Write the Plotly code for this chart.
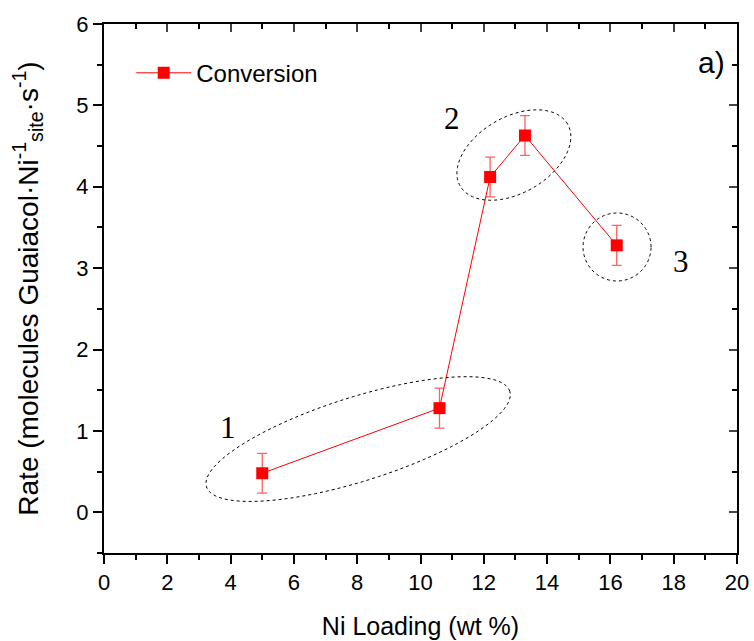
import numpy as np
import plotly.graph_objects as go

# ---- data ----
ni_loading = [5.0, 10.6, 12.2, 13.3, 16.2]
rate = [0.48, 1.28, 4.12, 4.63, 3.28]
rate_err = [0.245, 0.245, 0.245, 0.245, 0.245]

x_range = [0, 20]
y_range = [-0.5, 6]
x_ticks = [0, 2, 4, 6, 8, 10, 12, 14, 16, 18, 20]
y_ticks = [0, 1, 2, 3, 4, 5, 6]

group_labels = ["1", "2", "3"]
group_label_x = [3.92, 11.0, 18.23]
group_label_y = [1.04, 4.84, 3.08]
# ellipse groups: centre (data), semi-axes (px), tilt (deg)
ell_cx = [8.03, 12.95, 16.21]
ell_cy = [0.90, 4.39, 3.26]
ell_a = [159, 62, 34]
ell_b = [42, 38, 34]
ell_ang = [17.5, 30, 0]

W, H = 754, 641
ML, MR, MT, MB = 104, 17, 24, 88
pw = W - ML - MR
ph = H - MT - MB
sx = pw / (x_range[1] - x_range[0])
sy = ph / (y_range[1] - y_range[0])

fig = go.Figure()
fig.add_trace(go.Scatter(
    x=ni_loading, y=rate, mode="lines+markers", name="Conversion",
    line=dict(color="#ff0000", width=1),
    marker=dict(symbol="square", size=12, color="#ff0000"),
    error_y=dict(type="data", array=rate_err, color="#ff6060", thickness=1.3, width=5),
))

shapes = []
for cx, cy, a, b, ang in zip(ell_cx, ell_cy, ell_a, ell_b, ell_ang):
    t = np.linspace(0, 2 * np.pi, 121)
    th = np.deg2rad(ang)
    px = a * np.cos(t) * np.cos(th) - b * np.sin(t) * np.sin(th)
    py = a * np.cos(t) * np.sin(th) + b * np.sin(t) * np.cos(th)
    xs = cx + px / sx
    ys = cy + py / sy
    path = "M " + " L ".join(f"{x:.4f},{y:.4f}" for x, y in zip(xs, ys)) + " Z"
    shapes.append(dict(type="path", path=path, xref="x", yref="y",
                       line=dict(color="black", width=1, dash="dot")))

annotations = []
for lab, lx, ly in zip(group_labels, group_label_x, group_label_y):
    annotations.append(dict(x=lx, y=ly, xref="x", yref="y", text=lab, showarrow=False,
                            font=dict(family="Liberation Serif", size=31, color="black")))
annotations.append(dict(x=19.2, y=5.53, xref="x", yref="y", text="a)", showarrow=False,
                        font=dict(family="Liberation Sans", size=30, color="black")))

axis_common = dict(showline=True, linecolor="black", linewidth=2, ticks="outside",
                   tickwidth=2, tickcolor="black", showgrid=False, zeroline=False, automargin=False,
                   tickfont=dict(family="Liberation Sans", size=22, color="black"))

fig.update_layout(
    width=W, height=H,
    margin=dict(l=ML, r=MR, t=MT, b=MB),
    plot_bgcolor="white", paper_bgcolor="white",
    font=dict(family="Liberation Sans", color="black"),
    shapes=shapes, annotations=annotations,
    showlegend=True,
    legend=dict(x=0.043, y=0.907, xanchor="left", yanchor="middle", bgcolor="rgba(0,0,0,0)",
                font=dict(family="Liberation Sans", size=24, color="black"), itemwidth=55),
    xaxis=dict(range=x_range, tickvals=x_ticks, ticklen=9,
               minor=dict(dtick=1, ticklen=5, ticks="outside", tickwidth=2, tickcolor="black"),
               title=dict(text="Ni Loading (wt %)", font=dict(family="Liberation Sans", size=25), standoff=23),
               **axis_common),
    yaxis=dict(range=y_range, tickvals=y_ticks, ticklen=9,
               minor=dict(dtick=0.5, tick0=0, ticklen=5, ticks="outside", tickwidth=2, tickcolor="black"),
               title=dict(text="Rate (molecules Guaiacol·Ni<sup>-1</sup><sub>site</sub>·s<sup>-1</sup>)",
                          font=dict(family="Liberation Sans", size=28), standoff=30),
               **axis_common),
    xaxis2=dict(range=x_range, overlaying="x", side="top", showline=True, linecolor="black", linewidth=2,
                ticks="inside", ticklen=8, tickwidth=2, tickvals=x_ticks, showticklabels=False,
                minor=dict(dtick=1, ticklen=5, ticks="inside", tickwidth=2, tickcolor="black"),
                showgrid=False, zeroline=False, automargin=False),
    yaxis2=dict(range=y_range, overlaying="y", side="right", showline=True, linecolor="black", linewidth=2,
                ticks="inside", ticklen=8, tickwidth=2, tickvals=y_ticks, showticklabels=False,
                minor=dict(dtick=0.5, tick0=0, ticklen=5, ticks="inside", tickwidth=2, tickcolor="black"),
                showgrid=False, zeroline=False, automargin=False),
)
fig.add_trace(go.Scatter(x=[None], y=[None], xaxis="x2", yaxis="y2", showlegend=False, hoverinfo="skip"))

fig.write_html("out.html")
